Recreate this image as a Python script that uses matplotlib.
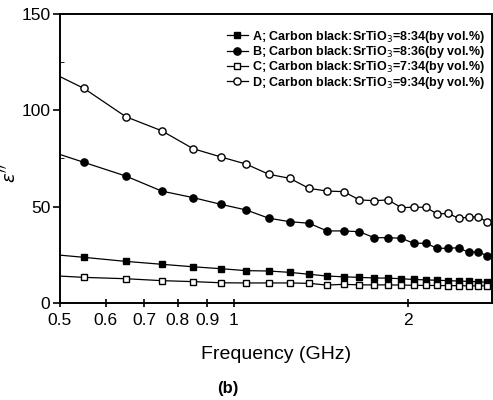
import matplotlib.pyplot as plt
from matplotlib.ticker import FixedLocator, NullFormatter, MultipleLocator

plt.rcParams['font.family'] = ['Liberation Sans', 'DejaVu Sans']

freq = [0.45, 0.55, 0.65, 0.75, 0.85, 0.95, 1.05, 1.15, 1.25, 1.35, 1.45, 1.55,
        1.65, 1.75, 1.85, 1.95, 2.05, 2.15, 2.25, 2.35, 2.45, 2.55, 2.65, 2.75]

eps_a = [26.1, 23.7, 21.6, 20.1, 18.8, 17.8, 16.8, 16.6, 15.9, 14.9, 14.0, 13.6,
         13.3, 13.0, 12.9, 12.6, 12.2, 12.0, 11.8, 11.6, 11.4, 11.2, 11.0, 10.8]
eps_b = [81.6, 73.0, 65.9, 58.1, 54.7, 51.2, 48.3, 44.0, 42.2, 41.4, 37.4, 37.4,
         37.0, 33.9, 33.9, 33.6, 31.0, 31.0, 28.4, 28.4, 28.7, 26.3, 26.6, 24.4]
eps_c = [14.7, 13.3, 12.6, 11.6, 11.1, 10.5, 10.4, 10.4, 10.4, 10.2, 9.3, 9.7,
         9.4, 9.4, 9.4, 9.3, 9.2, 9.1, 9.1, 9.0, 9.0, 8.9, 8.9, 8.9]
eps_d = [124.2, 111.4, 96.7, 89.4, 80.1, 75.8, 72.1, 66.8, 64.7, 59.5, 58.1, 57.8,
         53.5, 53.1, 53.5, 49.5, 49.7, 49.7, 46.2, 46.5, 44.0, 44.5, 44.8, 41.9]

labels = ['A; Carbon black:SrTiO$_3$=8:34(by vol.%)',
          'B; Carbon black:SrTiO$_3$=8:36(by vol.%)',
          'C; Carbon black:SrTiO$_3$=7:34(by vol.%)',
          'D; Carbon black:SrTiO$_3$=9:34(by vol.%)']

xticks = [0.5, 0.6, 0.7, 0.8, 0.9, 1, 2]
xticklabels = ['0.5', '0.6', '0.7', '0.8', '0.9', '1', '2']

fig = plt.figure(figsize=(4.93, 4.0), dpi=100)
ax = fig.add_axes([0.1217, 0.2425, 0.8763, 0.7225])

ms = 4.6
ax.plot(freq, eps_a, '-', color='k', lw=0.9, marker='s', ms=ms, mfc='k', label=labels[0])
ax.plot(freq, eps_b, '-', color='k', lw=0.9, marker='o', ms=ms + 0.6, mfc='k', label=labels[1])
ax.plot(freq, eps_c, '-', color='k', lw=0.9, marker='s', ms=ms, mfc='white', mew=1.0, label=labels[2])
ax.plot(freq, eps_d, '-', color='k', lw=0.9, marker='o', ms=ms + 0.6, mfc='white', mew=1.0, label=labels[3])

ax.set_xscale('log')
ax.set_xlim(0.5, 2.8)
ax.set_ylim(0, 150)
ax.xaxis.set_major_locator(FixedLocator(xticks))
ax.set_xticklabels(xticklabels)
ax.xaxis.set_minor_locator(FixedLocator([]))
ax.xaxis.set_minor_formatter(NullFormatter())
ax.yaxis.set_major_locator(MultipleLocator(50))
ax.yaxis.set_minor_locator(MultipleLocator(25))

for s in ax.spines.values():
    s.set_linewidth(1.4)
ax.tick_params(axis='both', which='major', labelsize=12.5, width=1.2)
ax.tick_params(axis='y', which='major', direction='out', length=5, pad=2)
ax.tick_params(axis='y', which='minor', direction='in', length=3)
ax.tick_params(axis='x', which='major', direction='inout', length=6, pad=4)

ax.set_xlabel('Frequency (GHz)', fontsize=14, labelpad=13)
ax.set_ylabel("$\\varepsilon''$", fontsize=13)
ax.yaxis.set_label_coords(-0.093, 0.45)

ax.legend(loc='upper right', bbox_to_anchor=(1.0, 0.975), frameon=False,
          prop={'size': 9.0, 'weight': 'bold'},
          handlelength=1.7, handletextpad=0.3, labelspacing=-0.05,
          borderaxespad=0.2)

fig.text(0.4625, 0.03, '(b)', fontsize=12, fontweight='bold', ha='center', va='center')

fig.savefig('out.png', dpi=100)
